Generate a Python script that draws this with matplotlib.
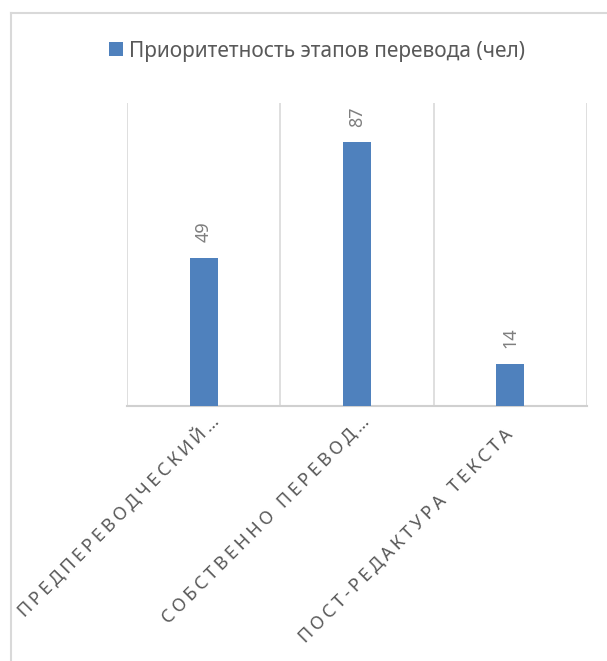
import matplotlib.pyplot as plt
from matplotlib.lines import Line2D
from matplotlib.patches import Patch
from matplotlib.transforms import ScaledTranslation

plt.rcParams['font.family'] = ['Noto Sans', 'DejaVu Sans']

stages = ['ПРЕДПЕРЕВОДЧЕСКИЙ…', 'СОБСТВЕННО ПЕРЕВОД…', 'ПОСТ-РЕДАКТУРА ТЕКСТА']
counts = [49, 87, 14]
series_name = 'Приоритетность этапов перевода (чел)'

bar_color = '#4f81bd'
grid_color = '#d9d9d9'
text_color = '#595959'

# nudges (px) for the rotated category labels
label_dx = [6, 3, -7]
label_dy = [1, 0, -12]


def spaced(s):
    # Excel-style letter spacing on the category labels
    return '\u200a\u200a'.join(s)


W, H = 607, 661
fig = plt.figure(figsize=(W / 100, H / 100), dpi=100)

# chart frame (runs off the right and bottom edge)
fig.add_artist(Line2D([11 / W, 11 / W], [1 - 13 / H, 0], color=grid_color, lw=1.5))
fig.add_artist(Line2D([11 / W, 1], [1 - 13 / H, 1 - 13 / H], color=grid_color, lw=1.5))

ax = fig.add_axes([127 / W, 1 - 406 / H, 460 / W, 303 / H])
x = list(range(len(stages)))
bars = ax.bar(x, counts, width=0.183, color=bar_color, zorder=3)

ax.set_xlim(-0.5, len(stages) - 0.5)
ax.set_ylim(0, 100)

# vertical gridlines between the categories
for b in range(len(stages) + 1):
    ax.axvline(b - 0.5, color=grid_color, lw=1.2, zorder=1)

for s in ['top', 'right', 'left']:
    ax.spines[s].set_visible(False)
ax.spines['bottom'].set_color('#d0d0d0')
ax.spines['bottom'].set_linewidth(1.5)
ax.set_yticks([])

ax.set_xticks(x)
ax.set_xticklabels([spaced(s) for s in stages], rotation=45, ha='right',
                   rotation_mode='anchor', fontsize=13, color=text_color)
ax.tick_params(axis='x', length=0, pad=5)
for lab, dx, dy in zip(ax.get_xticklabels(), label_dx, label_dy):
    lab.set_transform(lab.get_transform() + ScaledTranslation(dx / 100, dy / 100, fig.dpi_scale_trans))

for rect, v in zip(bars, counts):
    ax.annotate(str(v), (rect.get_x() + rect.get_width() / 2, v),
                xytext=(0, 11), textcoords='offset points',
                rotation=90, ha='center', va='bottom',
                fontsize=13, color='#7f7f7f')

handle = Patch(facecolor=bar_color, edgecolor='none')
fig.legend([handle], [series_name], loc='center', bbox_to_anchor=(317 / W, 1 - 51 / H),
           frameon=False, fontsize=15, labelcolor=text_color,
           handlelength=0.65, handleheight=0.65, handletextpad=0.3)

fig.savefig('out.png', dpi=100)
